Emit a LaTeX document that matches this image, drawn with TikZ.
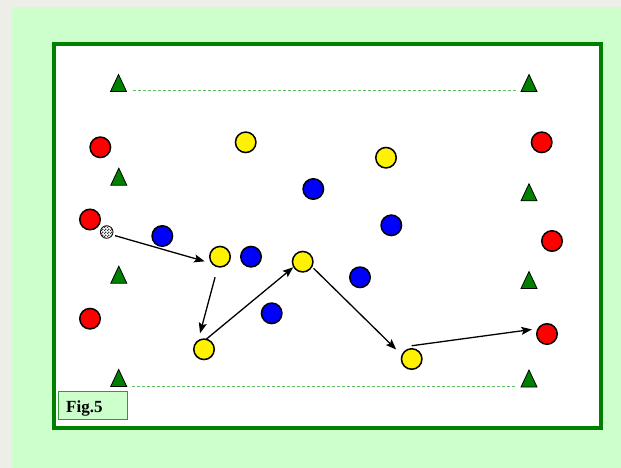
\documentclass[tikz,border=0pt]{standalone}
\usepackage{fontspec}
\setmainfont{Liberation Serif}
\usetikzlibrary{arrows.meta,patterns}

\definecolor{pagegrey}{RGB}{238,238,233}
\definecolor{mint}{RGB}{204,255,204}
\definecolor{fieldgreen}{RGB}{0,128,0}
\definecolor{linegreen}{RGB}{95,190,95}
\definecolor{taggreen}{RGB}{51,153,51}

% small chequered texture for the ball
\pgfdeclarepatternformonly{finechecker}{\pgfpointorigin}{\pgfqpoint{2.6pt}{2.6pt}}%
  {\pgfqpoint{2.6pt}{2.6pt}}%
  {\pgfpathrectangle{\pgfpointorigin}{\pgfqpoint{1.35pt}{1.35pt}}%
   \pgfpathrectangle{\pgfqpoint{1.3pt}{1.3pt}}{\pgfqpoint{1.35pt}{1.35pt}}%
   \pgfusepath{fill}}

\begin{document}
\begin{tikzpicture}[x=1pt,y=-1pt,
  player/.style={circle, draw=black, line width=1.5pt, minimum size=20.5pt,
                 inner sep=0pt, outer sep=0pt},
  redp/.style={player, fill=red},
  yellowp/.style={player, fill=yellow},
  bluep/.style={player, fill=blue},
  ballnode/.style={circle, draw=black, line width=0.8pt, minimum size=12.6pt,
                   inner sep=0pt, outer sep=0pt, fill=white,
                   postaction={pattern=finechecker, pattern color=black!80}},
  pass/.style={draw=black, line width=1.3pt,
               -{Stealth[length=10.5pt,width=8pt,inset=2pt]}},
  sideline/.style={draw=linegreen, line width=0.9pt, dash pattern=on 3pt off 2pt},
  cone/.pic={\draw[fill=fieldgreen, draw=black, line width=0.8pt]
              (-8,8.5) -- (0,-8.5) -- (8,8.5) -- cycle;},
  figtag/.style={rectangle, draw=taggreen, line width=1pt, fill=mint,
                 minimum width=68.7pt, minimum height=28pt, inner sep=0pt}
]
\useasboundingbox (0,0) rectangle (621,468);

% page and pitch
\fill[pagegrey] (0,0) rectangle (621,468);
\fill[mint] (12,7) rectangle (621,468);
\draw[fieldgreen, line width=3.7pt, fill=white] (54.2,43.9) rectangle (600.8,427.7);

% cones
\coordinate (cTL) at (118.5,83);
\coordinate (cTR) at (529,83);
\coordinate (cL2) at (118.8,176.7);
\coordinate (cL3) at (118.8,274.7);
\coordinate (cR2) at (529,192.3);
\coordinate (cR3) at (529,280);
\coordinate (cBL) at (118.7,378);
\coordinate (cBR) at (529,378.5);
\foreach \c in {cTL,cTR,cL2,cL3,cR2,cR3,cBL,cBR} \pic at (\c) {cone};

% side lines between the corner cones
\draw[sideline] ([xshift=14.5pt,yshift=-7.5pt]cTL) -- ([xshift=-13pt,yshift=-7.5pt]cTR);
\draw[sideline] ([xshift=13.3pt,yshift=-8pt]cBL) -- ([xshift=-13pt,yshift=-7.5pt]cBR);

% red team
\node[redp] (R1) at (100.3,147.3) {};
\node[redp] (R2) at (90,219.5) {};
\node[redp] (R3) at (90,318.7) {};
\node[redp] (R4) at (541.7,142.3) {};
\node[redp] (R5) at (552,241) {};
\node[redp] (R6) at (547,334) {};

% yellow team
\node[yellowp] (Y1) at (245.7,142.3) {};
\node[yellowp] (Y2) at (386,157.7) {};
\node[yellowp] (Y3) at (220,256.7) {};
\node[yellowp] (Y4) at (302.7,261.7) {};
\node[yellowp] (Y5) at (204,349.3) {};
\node[yellowp] (Y6) at (411.7,359) {};

% blue team
\node[bluep] (B1) at (313.3,189) {};
\node[bluep] (B2) at (391.3,225.3) {};
\node[bluep] (B3) at (162.3,236) {};
\node[bluep] (B4) at (251,256.7) {};
\node[bluep] (B5) at (360,277.3) {};
\node[bluep] (B6) at (271.7,313.3) {};

% ball
\node[ballnode] (ball) at (106.7,232) {};

% passing sequence
\draw[pass, shorten <=2.9pt, shorten >=8pt] (ball.-27) -- (Y3.222);
\draw[pass, shorten <=10.8pt, shorten >=8pt] (Y3.258) -- (Y5.126);
\draw[pass, shorten >=0.8pt] (Y5.78) -- (Y4.210);
\draw[pass, shorten <=2.5pt, shorten >=8.3pt] (Y4.332) -- (Y6.159);
\draw[pass, shorten >=6.5pt] ([yshift=3pt]Y6.north) -- (R6.148);

% caption tag
\node[figtag, anchor=north west] (figbox) at (58.3,391.3) {};
\node[anchor=base west, inner sep=0pt, font=\bfseries\fontsize{17}{17}\selectfont]
  (figtext) at (66,412) {Fig.5};
\end{tikzpicture}
\end{document}
